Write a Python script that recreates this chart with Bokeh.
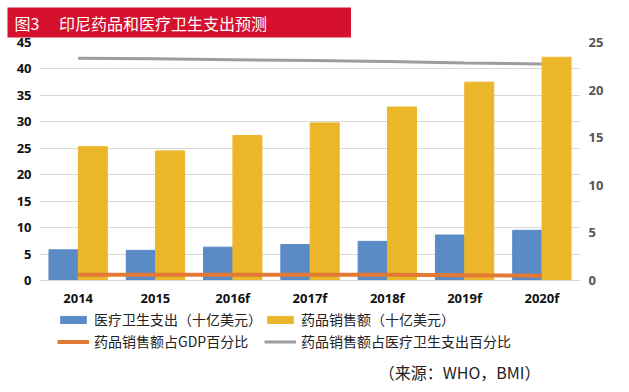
from bokeh.plotting import figure
from bokeh.models import (FactorRange, Range1d, LinearAxis, Legend, LegendItem, Label,
                          FixedTicker, ColumnDataSource)
from bokeh.transform import dodge
from bokeh.layouts import column
from bokeh.embed import file_html
from bokeh.resources import INLINE

# ---- data ----
years = ["2014", "2015", "2016f", "2017f", "2018f", "2019f", "2020f"]
health_spend = [5.8, 5.7, 6.3, 6.8, 7.4, 8.6, 9.5]            # 医疗卫生支出（十亿美元）
pharma_sales = [25.3, 24.5, 27.4, 29.8, 32.8, 37.5, 42.2]      # 药品销售额（十亿美元）
pharma_gdp_pct = [0.6, 0.6, 0.6, 0.6, 0.6, 0.55, 0.5]          # 药品销售额占GDP百分比
pharma_health_pct = [23.35, 23.3, 23.2, 23.1, 23.0, 22.85, 22.75]  # 药品销售额占医疗卫生支出百分比
left_ticks = [0, 5, 10, 15, 20, 25, 30, 35, 40, 45]
right_ticks = [0, 5, 10, 15, 20, 25]
title_text = "图3\u3000 印尼药品和医疗卫生支出预测"
source_text = "（来源：WHO，BMI）"
legend_labels = ["医疗卫生支出（十亿美元）", "药品销售额（十亿美元）",
                 "药品销售额占GDP百分比", "药品销售额占医疗卫生支出百分比"]

CJK = "Noto Sans CJK SC"
BLUE, YELLOW, ORANGE, GRAY = "#5b8bc5", "#ebb629", "#e27a36", "#9c9c9c"

src = ColumnDataSource(dict(year=years, health=health_spend, sales=pharma_sales,
                            gdp=pharma_gdp_pct, hpct=pharma_health_pct))

# ---------------- main chart ----------------
p = figure(frame_width=541, frame_height=238, x_range=FactorRange(*years), y_range=Range1d(0, 45),
           output_backend="svg", toolbar_location=None,
           min_border_left=39, min_border_right=33, min_border_top=39, min_border_bottom=26)
p.outline_line_color = None
p.extra_y_ranges = {"pct": Range1d(0, 25)}

p.title.text = title_text
p.title.text_font = CJK
p.title.text_font_size = "16px"
p.title.text_font_style = "normal"
p.title.text_color = "white"
p.title.background_fill_color = "#d5112e"
p.title.align = "left"
p.title.offset = -32
p.title.padding = dict(left=7, right=84, top=3, bottom=3)

p.yaxis.ticker = FixedTicker(ticks=left_ticks)
ax_r = LinearAxis(y_range_name="pct", ticker=FixedTicker(ticks=right_ticks))
p.add_layout(ax_r, "right")

for ax in p.yaxis + p.xaxis:
    ax.major_tick_line_color = None
    ax.minor_tick_line_color = None
    ax.major_tick_out = 0
    ax.major_tick_in = 0
    ax.minor_tick_out = 0
    ax.major_label_standoff = 8
    ax.major_label_text_font = "Open Sans"
    ax.major_label_text_font_style = "bold"
    ax.major_label_text_font_size = "13px"
    ax.major_label_text_color = "#111111"
    ax.axis_line_color = None
ax_r.major_label_text_color = "#555555"
p.xaxis.axis_line_color = "#d9d9d9"

p.ygrid.grid_line_color = "#d9d9d9"
p.xgrid.grid_line_color = None

p.vbar(x=dodge("year", -0.19, range=p.x_range), top="health", width=0.375, source=src, color=BLUE)
p.vbar(x=dodge("year", 0.19, range=p.x_range), top="sales", width=0.375, source=src, color=YELLOW)
p.line("year", "gdp", source=src, y_range_name="pct", line_color=ORANGE, line_width=4)
p.line("year", "hpct", source=src, y_range_name="pct", line_color=GRAY, line_width=3)

# ---------------- legend + source strip ----------------
q = figure(frame_width=541, frame_height=76, x_range=Range1d(0, 541), y_range=Range1d(0, 76),
           output_backend="svg", toolbar_location=None,
           min_border_left=39, min_border_right=33, min_border_top=0, min_border_bottom=0,
           x_axis_location=None, y_axis_location=None)
q.grid.visible = False
q.outline_line_color = None

# legend proxies (kept outside the visible range; only their swatches are shown)
proxy = ColumnDataSource(dict(x=[-1000, -999], y=[-1000, -999]))
g1 = q.vbar(x="x", top="y", width=1, color=BLUE, source=proxy)
g2 = q.vbar(x="x", top="y", width=1, color=YELLOW, source=proxy)
g3 = q.line(x="x", y="y", line_color=ORANGE, line_width=4, source=proxy)
g4 = q.line(x="x", y="y", line_color=GRAY, line_width=3, source=proxy)

# filled column by column: (blue, orange) | (yellow, gray)
legend = Legend(items=[LegendItem(label=legend_labels[0], renderers=[g1]),
                       LegendItem(label=legend_labels[2], renderers=[g3]),
                       LegendItem(label=legend_labels[1], renderers=[g2]),
                       LegendItem(label=legend_labels[3], renderers=[g4])],
                ncols=2, location=(18, 34))
legend.border_line_color = None
legend.background_fill_alpha = 0
legend.padding = 0
legend.margin = 0
legend.spacing = 2
legend.glyph_width = 32
legend.glyph_height = 9
legend.label_height = 20
legend.label_standoff = 5
legend.label_text_font = CJK
legend.label_text_font_size = "14px"
legend.label_text_color = "#222222"
q.add_layout(legend)

q.add_layout(Label(x=501, y=14, text=source_text, text_align="right", text_baseline="middle",
                   text_font=CJK, text_font_size="16px", text_color="#222222"))

layout = column(p, q, spacing=0)
open("out.html", "w").write(file_html(layout, INLINE))
